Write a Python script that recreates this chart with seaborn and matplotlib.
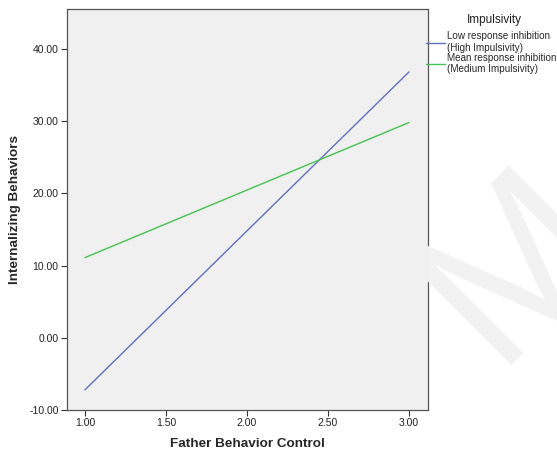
import matplotlib
matplotlib.use('Agg')
import matplotlib.pyplot as plt
import matplotlib.ticker as mticker
import numpy as np
import pandas as pd
import seaborn as sns

# values
father_control = [1.0, 3.0]
low_inhibition = [-7.2, 36.8]
mean_inhibition = [11.1, 29.8]
group_names = ['Low response inhibition\n(High Impulsivity)',
               'Mean response inhibition\n(Medium Impulsivity)']
line_colors = ['#5f6fc2', '#45c24f']
y_ticks = [-10, 0, 10, 20, 30, 40]
x_ticks = [1.0, 1.5, 2.0, 2.5, 3.0]

m_df = pd.DataFrame({
    'Father Behavior Control': father_control * 2,
    'Internalizing Behaviors': low_inhibition + mean_inhibition,
    'Impulsivity': [group_names[0]] * 2 + [group_names[1]] * 2,
})

sns.set_style('ticks')
plt.rcParams['font.family'] = ['Liberation Sans', 'DejaVu Sans']

fig = plt.figure(figsize=(5.57, 4.53), dpi=100)
# faint watermark letter behind everything
fig.text(0.93, 0.415, 'M', fontsize=150, color='#f2f2f2', rotation=45,
         ha='center', va='center', zorder=0)

ax = fig.add_axes([0.1203, 0.0949, 0.648, 0.885])
ax.set_facecolor('#f0f0f0')
sns.lineplot(data=m_df, x='Father Behavior Control', y='Internalizing Behaviors',
             hue='Impulsivity', palette=line_colors, linewidth=1.0, ax=ax)

ax.set_xlim(0.889, 3.117)
ax.set_ylim(-10, 45.5)
ax.set_xticks(x_ticks)
ax.set_yticks(y_ticks)
ax.xaxis.set_major_formatter(mticker.FormatStrFormatter('%.2f'))
ax.yaxis.set_major_formatter(mticker.FormatStrFormatter('%.2f'))
ax.tick_params(axis='both', labelsize=7.5, length=4.5, width=0.8, color='#333333',
               labelcolor='#222222', direction='out', pad=1.5)
for s in ax.spines.values():
    s.set_visible(True)
    s.set_color('#555555')
    s.set_linewidth(0.9)

ax.set_xlabel('Father Behavior Control', fontsize=9.7, fontweight='bold', labelpad=7)
ax.set_ylabel('Internalizing Behaviors', fontsize=9.7, fontweight='bold', labelpad=6)

# legend title placed on its own, like the SPSS output
fig.text(494 / 557, 1 - 20 / 453, 'Impulsivity', fontsize=8.5, color='#222222',
         ha='center', va='center')
leg = ax.legend(loc='upper left', bbox_to_anchor=(0.995, 0.945),
                frameon=False, fontsize=7.1, handlelength=1.9,
                handletextpad=0.2, borderaxespad=0, labelspacing=0.0, borderpad=0)

fig.savefig('out.png', dpi=100)
